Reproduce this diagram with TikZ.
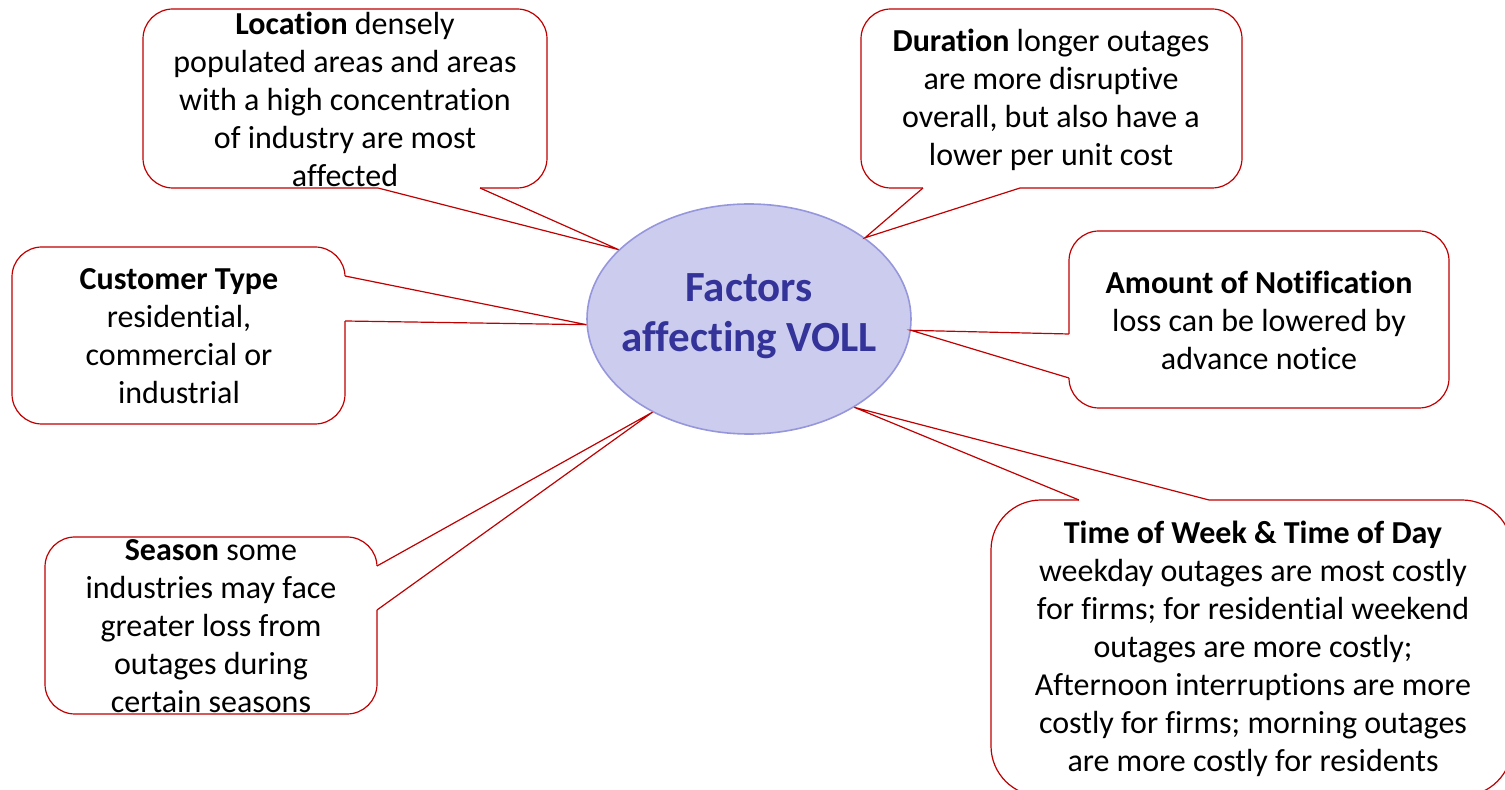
\documentclass[tikz,border=0pt]{standalone}
\usepackage{fontspec}
\setmainfont{Carlito}[Ligatures=NoCommon]
\usetikzlibrary{shapes.geometric}

\definecolor{calloutred}{RGB}{192,0,0}
\definecolor{hubfill}{RGB}{204,204,238}
\definecolor{hubline}{RGB}{150,150,220}
\definecolor{hubtext}{RGB}{51,51,153}

\begin{document}
\begin{tikzpicture}[x=0.5pt, y=-0.5pt,
  callbox/.style={draw=calloutred, fill=white, line width=0.6pt, rounded corners=15pt},
  pointer/.style={draw=calloutred, fill=white, line width=0.6pt},
  gap/.style={draw=white, line width=1.4pt},
  factor/.style={align=center, font=\fontsize{16}{19}\selectfont, inner sep=0pt},
  hub/.style={ellipse, draw=hubline, fill=hubfill, line width=0.8pt,
    minimum width=162pt, minimum height=115pt, inner sep=0pt}]

\useasboundingbox (0,0) rectangle (1505,790);

\def\xhub{749};
\def\yhub{319};

\node [hub] (voll) at (\xhub, \yhub) {};

% top left
\draw [callbox] (143,9) rectangle (547,188);
\draw [gap] (378,188) -- (480,188);
\filldraw [pointer] (378,188) -- (voll.152) -- (480,188);
\node [factor] (location) at (345,99) {\textbf{Location} densely\\populated areas and areas\\with a high concentration\\of industry are most\\affected};

% top right
\draw [callbox] (861,9) rectangle (1242,188);
\draw [gap] (923,188) -- (1020,188);
\filldraw [pointer] (923,188) -- (voll.35) -- (1020,188);
\node [factor] (duration) at (1051,100) {\textbf{Duration} longer outages\\are more disruptive\\overall, but also have a\\lower per unit cost};

% left
\draw [callbox] (12,247) rectangle (345,424);
\draw [gap] (345,276) -- (345,321);
\filldraw [pointer] (345,276) -- (voll.182) -- (345,321);
\node [factor] (customer) at (179,336) {\textbf{Customer Type}\\residential,\\commercial or\\industrial};

% right
\draw [callbox] (1069,231) rectangle (1449,408);
\draw [gap] (1069,334) -- (1069,378);
\filldraw [pointer] (1069,334) -- (voll.356) -- (1069,378);
\node [factor] (notice) at (1259,320) {\textbf{Amount of Notification}\\loss can be lowered by\\advance notice};

% bottom left
\draw [callbox] (45,537) rectangle (377,714);
\draw [gap] (377,566) -- (377,610);
\filldraw [pointer] (377,566) -- (voll.224) -- (377,610);
\node [factor] (season) at (211,626) {\textbf{Season} some\\industries may face\\greater loss from\\outages during\\certain seasons};

% bottom right
\draw [callbox, rounded corners=25pt] (991,500) rectangle (1512,796);
\draw [gap] (1079,500) -- (1209,500);
\filldraw [pointer] (1079,500) -- (voll.320) -- (1209,500);
\node [factor] (timing) at (1253,649) {\textbf{Time of Week \& Time of Day}\\weekday outages are most costly\\for firms; for residential weekend\\outages are more costly;\\Afternoon interruptions are more\\costly for firms; morning outages\\are more costly for residents};

\node [font=\bfseries\fontsize{21.5}{25}\selectfont, text=hubtext, align=center] (title) at (\xhub, 316) {Factors\\affecting VOLL};

\end{tikzpicture}
\end{document}
